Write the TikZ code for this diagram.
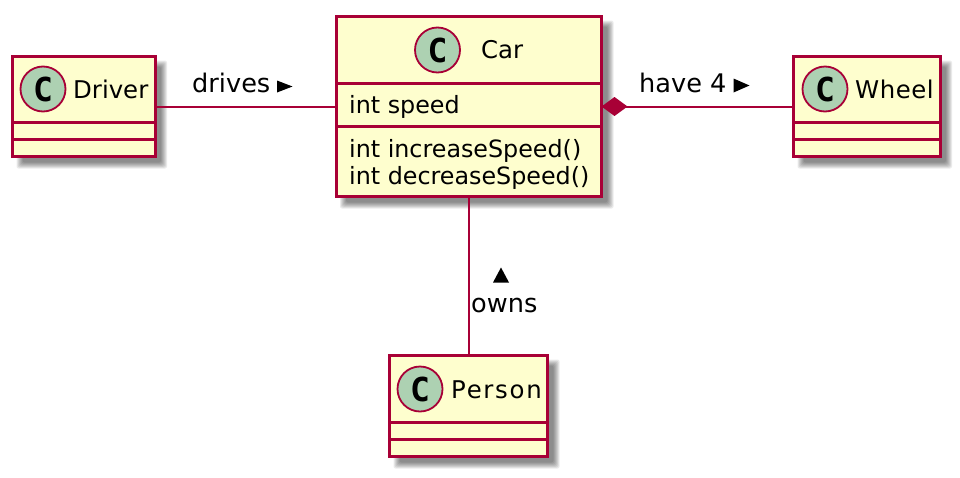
\documentclass[tikz,border=0pt]{standalone}
\usepackage{fontspec}
\setmainfont{DejaVu Sans}
\newfontfamily\cmono{DejaVu Sans Mono}
\usetikzlibrary{arrows.meta}
\definecolor{umlline}{HTML}{A80036}
\definecolor{umlfill}{HTML}{FEFECE}
\definecolor{umlcirc}{HTML}{ADD1B2}
\tikzset{
  x=1pt,y=-1pt,
  classbox/.style={draw=umlline,fill=umlfill,line width=3pt,rectangle,inner sep=0pt,outer sep=0pt},
  divider/.style={draw=umlline,line width=3pt},
  circlemark/.style={circle,draw=umlline,fill=umlcirc,line width=1.8pt,minimum size=45pt,inner sep=0pt,
    font={\fontsize{33}{33}\selectfont\cmono\bfseries},text=black},
  nametext/.style={anchor=base west,inner sep=0pt,text=black,font=\fontsize{24.4}{24.4}\selectfont},
  membertext/.style={anchor=base west,inner sep=0pt,text=black,font=\fontsize{23.8}{23.8}\selectfont},
  edgetext/.style={anchor=base west,inner sep=0pt,text=black,font=\fontsize{25.6}{25.6}\selectfont},
  edge/.style={draw=umlline,line width=2pt},
  dirmark/.style={fill=black,draw=none},
}
\newcommand{\softshadow}[4]{%
  \foreach \g in {4,3,2,1,0,-1,-2}{
    \fill[black,opacity=0.08,rounded corners=2pt]
      ({#1+8-\g},{#2+8-\g}) rectangle ({#3+8+\g},{#4+8+\g});
  }}
\begin{document}
\begin{tikzpicture}
\useasboundingbox (0,0) rectangle (960,477);
\fill[white] (0,0) rectangle (960,477);
\softshadow{12.5}{56.5}{155}{156.5}
\softshadow{336}{16.5}{601.5}{196.5}
\softshadow{389.5}{355.5}{547.5}{456.5}
\softshadow{793.5}{56.5}{940}{156.5}

\node[classbox,minimum width=142.5pt,minimum height=100pt] (driver) at (83.75,106.5) {};
\node[classbox,minimum width=265.5pt,minimum height=180pt] (car) at (468.75,106.5) {};
\node[classbox,minimum width=158pt,minimum height=101pt] (person) at (468.5,406) {};
\node[classbox,minimum width=146.5pt,minimum height=100pt] (wheel) at (866.75,106.5) {};

\draw[divider] (driver.west |- 0,122) -- (driver.east |- 0,122);
\draw[divider] (driver.west |- 0,139.5) -- (driver.east |- 0,139.5);
\draw[divider] (car.west |- 0,83.5) -- (car.east |- 0,83.5);
\draw[divider] (car.west |- 0,126.5) -- (car.east |- 0,126.5);
\draw[divider] (person.west |- 0,422) -- (person.east |- 0,422);
\draw[divider] (person.west |- 0,439) -- (person.east |- 0,439);
\draw[divider] (wheel.west |- 0,122) -- (wheel.east |- 0,122);
\draw[divider] (wheel.west |- 0,139.5) -- (wheel.east |- 0,139.5);

\node[circlemark] (driverC) at (43,89) {C};
\node[circlemark] (carC) at (437.5,50) {C};
\node[circlemark] (personC) at (420,389) {C};
\node[circlemark] (wheelC) at (825,89) {C};

\node[nametext] (driverName) at (73,98) {Driver};
\node[nametext] (carName) at (481,58) {Car};
\node[nametext] (personName) at (451,398) {\addfontfeature{LetterSpace=7}Person};
\node[nametext] (wheelName) at (855,98) {\addfontfeature{LetterSpace=2}Wheel};

\node[membertext] (carField) at (349,113) {int speed};
\node[membertext] (carInc) at (349,157) {int increaseSpeed()};
\node[membertext] (carDec) at (349,184) {int decreaseSpeed()};

\draw[edge] (driver.east) -- (driver.east -| car.west);
\draw[edge,{Diamond[length=26pt,width=19pt,fill=umlline]}-] (car.east) -- (wheel.west);
\draw[edge] (car.south) -- (car.south |- person.north);

\node[edgetext] (drivesLabel) at (192,92) {drives};
\node[edgetext] (haveLabel) at (639,92) {have 4};
\node[edgetext] (ownsLabel) at (471,312) {owns};

\fill[dirmark] (277,80.5) -- (292.5,86.5) -- (277,92.5) -- cycle;
\fill[dirmark] (733.5,78.5) -- (749.5,85.5) -- (733.5,92.5) -- cycle;
\fill[dirmark] (501,267.5) -- (509,282.5) -- (493,282.5) -- cycle;
\end{tikzpicture}
\end{document}
